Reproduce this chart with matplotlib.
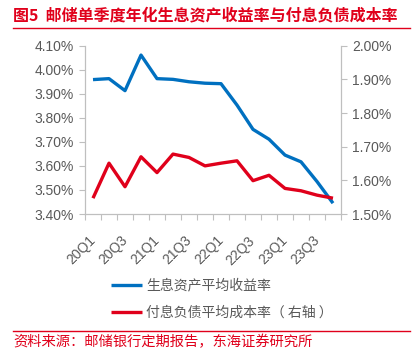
import matplotlib
matplotlib.use("Agg")
import matplotlib.pyplot as plt
import matplotlib.transforms as mtransforms
from matplotlib.lines import Line2D

plt.rcParams['font.family'] = ['Liberation Sans', 'Noto Sans CJK SC', 'DejaVu Sans']

quarters = ['20Q1', '20Q2', '20Q3', '20Q4', '21Q1', '21Q2', '21Q3', '21Q4',
            '22Q1', '22Q2', '22Q3', '22Q4', '23Q1', '23Q2', '23Q3', '23Q4']
asset_yield = [3.959, 3.963, 3.913, 4.061, 3.963, 3.960, 3.950, 3.944,
               3.942, 3.853, 3.752, 3.711, 3.645, 3.617, 3.535, 3.445]
liability_cost = [1.547, 1.651, 1.581, 1.670, 1.623, 1.678, 1.668, 1.643,
                  1.651, 1.658, 1.599, 1.615, 1.576, 1.569, 1.556, 1.547]
left_ticks = [3.40, 3.50, 3.60, 3.70, 3.80, 3.90, 4.00, 4.10]
right_ticks = [1.50, 1.60, 1.70, 1.80, 1.90, 2.00]
label_asset = '生息资产平均收益率'
label_liab = '付息负债平均成本率（ 右轴 ）'
title = '图5  邮储单季度年化生息资产收益率与付息负债成本率'
source = '资料来源：邮储银行定期报告，东海证券研究所'

BLUE = '#0070C0'
RED = '#E0001B'
GRAY = '#595959'
SPINE = '#BFBFBF'

fig = plt.figure(figsize=(4.15, 3.52), dpi=100)
ax = fig.add_axes([85/415, 1-214/352, (341-85)/415, (214-45.7)/352])
ax2 = ax.twinx()

x = list(range(len(quarters)))
l1, = ax.plot(x, asset_yield, color=BLUE, lw=2.4, solid_capstyle='butt')
l2, = ax2.plot(x, liability_cost, color=RED, lw=2.4, solid_capstyle='butt')

ax.set_xlim(-0.5, len(quarters) - 0.5)
ax.set_ylim(3.40, 4.10)
ax2.set_ylim(1.50, 2.00)
ax.set_yticks(left_ticks)
ax.set_yticklabels([f'{v:.2f}%' for v in left_ticks])
ax2.set_yticks(right_ticks)
ax2.set_yticklabels([f'{v:.2f}%' for v in right_ticks])

ax.set_xticks(x[::2])
ax.set_xticks([i - 0.5 for i in range(len(quarters) + 1)], minor=True)
ax.tick_params(axis='x', which='major', length=0, pad=14, labelsize=10, labelcolor=GRAY)
ax.tick_params(axis='x', which='minor', length=4, color=SPINE, width=0.8)
ax.tick_params(axis='y', length=4, color=SPINE, width=0.8, labelsize=10, labelcolor=GRAY, pad=4)
ax2.tick_params(axis='y', length=4, color=SPINE, width=0.8, labelsize=10, labelcolor=GRAY, pad=4)
ax.set_xticklabels(quarters[::2], rotation=45, ha='right', va='top',
                   rotation_mode='anchor')
offset = mtransforms.ScaledTranslation(-5/100, 0, fig.dpi_scale_trans)
for lab in ax.get_xticklabels():
    lab.set_transform(lab.get_transform() + offset)

for a in (ax, ax2):
    a.spines['top'].set_visible(False)
    for s in ('left', 'right', 'bottom'):
        a.spines[s].set_color(SPINE)
        a.spines[s].set_linewidth(0.8)

# title
fig.text(13/415, 1-15/352, title, color=RED, fontsize=11.5, fontweight='bold',
         family=['Noto Sans CJK SC', 'DejaVu Sans'], ha='left', va='center')
fig.add_artist(Line2D([13/415, 410/415], [1-28/352, 1-28/352], color=RED, lw=1.0))

# legend
fig.legend([l1, l2], [label_asset, label_liab], loc='upper left',
           bbox_to_anchor=(98/415, 1-266/352), frameon=False,
           prop={'family': ['Noto Sans CJK SC'], 'size': 10},
           handlelength=2.3, handletextpad=0.25, labelspacing=0.95, labelcolor=GRAY)

# source
fig.add_artist(Line2D([13/415, 410/415], [1-331/352, 1-331/352], color=RED, lw=1.0))
fig.text(13/415, 1-342/352, source, color=RED, fontsize=10.3,
         family=['Noto Sans CJK SC'], ha='left', va='center')

fig.savefig('out.png', dpi=100)
